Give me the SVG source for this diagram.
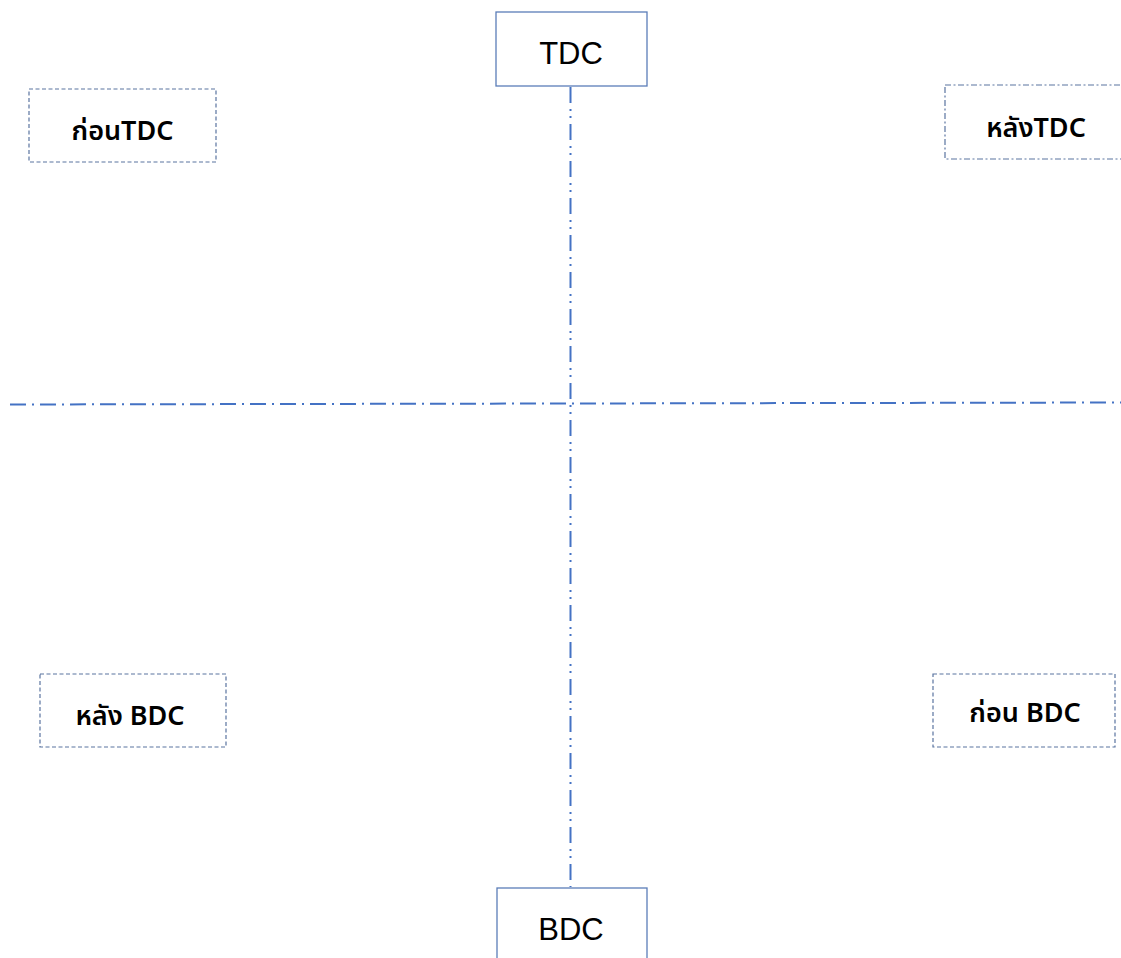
<svg xmlns="http://www.w3.org/2000/svg" width="1121" height="958" viewBox="0 0 1121 958">
<style>
.bg{fill:#ffffff}
.solid{fill:#ffffff;stroke:#5b7db8;stroke-width:1.3}
.dash{fill:#ffffff;stroke:#5a74a0;stroke-width:1.2;stroke-dasharray:4 2.5}
.dashdot{fill:#ffffff;stroke:#5a74a0;stroke-width:1.2;stroke-dasharray:6 2.5 2 2.5}
.axis{fill:none;stroke:#4472c4;stroke-width:2}
.big{font-family:"Liberation Sans","Noto Sans",sans-serif;font-size:31px;fill:#000;text-anchor:middle}
.lbl{font-family:"Noto Sans","Noto Sans Thai","Liberation Sans",Tahoma,sans-serif;font-size:27px;font-weight:600;fill:#000;text-anchor:middle}
</style>
<rect class="bg" x="0" y="0" width="1121" height="958"/>
<g id="connectors">
<line class="axis" x1="10" y1="404.5" x2="1121" y2="402.5" stroke-dasharray="16 6 2 6"/>
<line class="axis" x1="570.5" y1="87" x2="570.5" y2="887" stroke-dasharray="16 6 2 5 2 6"/>
</g>
<g id="tdc">
<rect class="solid" x="496" y="12" width="151" height="74"/>
<text class="big" x="571" y="64">TDC</text>
</g>
<g id="bdc">
<rect class="solid" x="497" y="888" width="150" height="80"/>
<text class="big" x="571" y="940">BDC</text>
</g>
<g id="before-tdc">
<rect class="dash" x="29" y="89" width="187" height="73"/>
<text class="lbl" x="122.5" y="140">ก่อนTDC</text>
</g>
<g id="after-tdc">
<rect class="dashdot" x="945" y="85" width="190" height="74"/>
<text class="lbl" x="1036" y="137">หลังTDC</text>
</g>
<g id="after-bdc">
<rect class="dash" x="40" y="674" width="186" height="73"/>
<text class="lbl" x="130" y="725">หลัง BDC</text>
</g>
<g id="before-bdc">
<rect class="dash" x="933" y="674" width="182" height="73"/>
<text class="lbl" x="1025" y="722">ก่อน BDC</text>
</g>
</svg>
